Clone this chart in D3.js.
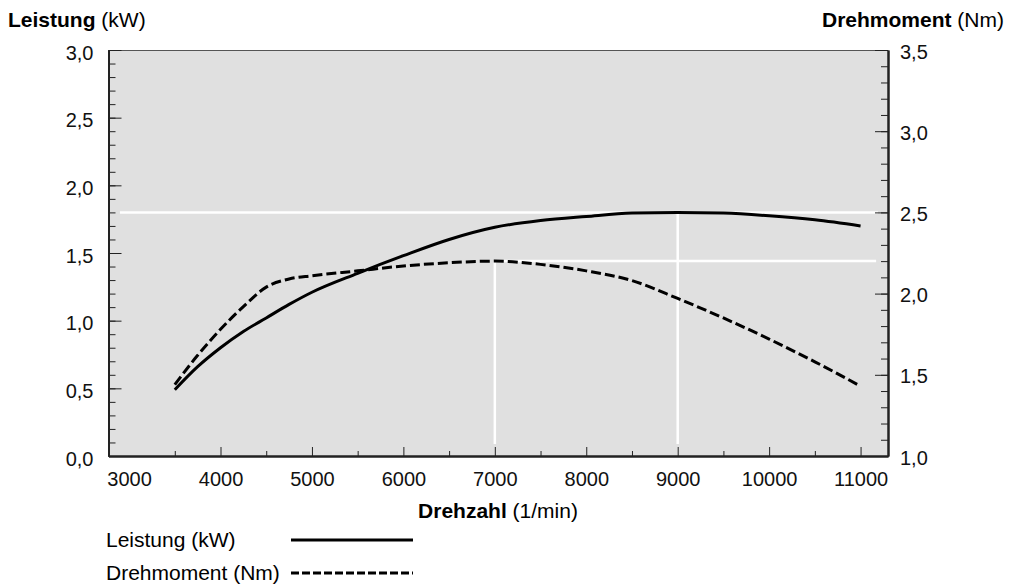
<!DOCTYPE html>
<html>
<head>
<meta charset="utf-8">
<script src="https://cdn.jsdelivr.net/npm/d3@7"></script>
<style>
  body { margin: 0; background: #fff; }
  svg { display: block; font-family: "Liberation Sans", Arial, Helvetica, sans-serif; }
  .axis path, .axis line { stroke: #222; }
  .axis text { font-size: 20px; fill: #111; }
</style>
</head>
<body>
<div id="chart"></div>
<script>
// Drehzahl (1/min)
var drehzahl = [3500, 3750, 4000, 4250, 4500, 4750, 5000, 5500, 6000, 6500, 7000, 7500, 8000, 8500, 9000, 9500, 10000, 10500, 11000];
// Leistung (kW)
var leistung = [0.49, 0.66, 0.80, 0.92, 1.02, 1.12, 1.21, 1.35, 1.48, 1.60, 1.69, 1.74, 1.77, 1.795, 1.80, 1.795, 1.775, 1.745, 1.70];
// Drehmoment (Nm)
var drehmoment = [1.44, 1.62, 1.78, 1.92, 2.04, 2.09, 2.11, 2.14, 2.17, 2.19, 2.20, 2.18, 2.14, 2.08, 1.97, 1.85, 1.72, 1.58, 1.43];

var xLabels = [3000, 4000, 5000, 6000, 7000, 8000, 9000, 10000, 11000];
var xMajor = [4000, 5000, 6000, 7000, 8000, 9000, 10000, 11000];
var xMinor = [3500, 4500, 5500, 6500, 7500, 8500, 9500, 10500];
var leistungTicks = [0, 0.5, 1.0, 1.5, 2.0, 2.5, 3.0];
var drehmomentTicks = [1.0, 1.5, 2.0, 2.5, 3.0, 3.5];

// Maximalwerte (weisse Hilfslinien)
var maxLeistung = { rpm: 9000, value: 1.8 };
var maxDrehmoment = { rpm: 7000, value: 2.2 };

var App = App || {};

(function() {
  var width = 1024, height = 584;
  var left = 108.5, right = 888, top = 50, bottom = 456;

  App.init = function() {
    var svg = d3.select("#chart").append("svg")
      .attr("width", width)
      .attr("height", height);

    var x = d3.scaleLinear().domain([2775, 11300]).range([left, right]);
    var yL = d3.scaleLinear().domain([0, 3]).range([bottom, top]);
    var yR = d3.scaleLinear().domain([1, 3.5]).range([bottom, top]);

    var komma = d3.formatLocale({ decimal: ",", thousands: ".", grouping: [3], currency: ["", "€"] }).format(".1f");

    // plot background
    svg.append("rect")
      .attr("x", left).attr("y", top)
      .attr("width", right - left).attr("height", bottom - top)
      .attr("fill", "#e0e0e0");

    svg.append("line")
      .attr("x1", left).attr("x2", right)
      .attr("y1", top + 0.5).attr("y2", top + 0.5)
      .attr("stroke", "#555").attr("stroke-width", 1);

    // white helper lines
    var g = svg.append("g").attr("stroke", "#fff").attr("stroke-width", 2.5);
    g.append("line")
      .attr("x1", x(2900)).attr("x2", x(11190))
      .attr("y1", yL(maxLeistung.value)).attr("y2", yL(maxLeistung.value));
    g.append("line")
      .attr("x1", x(maxLeistung.rpm)).attr("x2", x(maxLeistung.rpm))
      .attr("y1", yL(maxLeistung.value)).attr("y2", bottom - 12);
    g.append("line")
      .attr("x1", x(maxDrehmoment.rpm)).attr("x2", x(11170))
      .attr("y1", yR(maxDrehmoment.value)).attr("y2", yR(maxDrehmoment.value));
    g.append("line")
      .attr("x1", x(maxDrehmoment.rpm)).attr("x2", x(maxDrehmoment.rpm))
      .attr("y1", yR(maxDrehmoment.value)).attr("y2", bottom - 12);

    // minor ticks every 0.1
    var minorL = d3.range(0, 31).map(function(d) { return d / 10; });
    var minorR = d3.range(10, 36).map(function(d) { return d / 10; });

    svg.append("g").attr("class", "axis")
      .attr("transform", "translate(" + left + ",0)")
      .call(d3.axisLeft(yL).tickValues(minorL).tickSize(-7).tickSizeOuter(0).tickFormat(""));
    svg.append("g").attr("class", "axis")
      .attr("transform", "translate(" + left + ",0)")
      .call(d3.axisLeft(yL).tickValues(leistungTicks).tickSize(-13).tickSizeOuter(0).tickPadding(15).tickFormat(komma))
      .call(function(a) { a.selectAll("text").attr("dy", "0.45em"); });

    svg.append("g").attr("class", "axis")
      .attr("transform", "translate(" + right + ",0)")
      .call(d3.axisRight(yR).tickValues(minorR).tickSize(-7).tickSizeOuter(0).tickFormat(""));
    svg.append("g").attr("class", "axis")
      .attr("transform", "translate(" + right + ",0)")
      .call(d3.axisRight(yR).tickValues(drehmomentTicks).tickSize(-13).tickSizeOuter(0).tickPadding(12).tickFormat(komma))
      .call(function(a) { a.selectAll("text").attr("dy", "0.4em"); });

    svg.append("g").attr("class", "axis")
      .attr("transform", "translate(0," + bottom + ")")
      .call(d3.axisBottom(x).tickValues(xMinor).tickSize(-5).tickSizeOuter(0).tickFormat(""));
    svg.append("g").attr("class", "axis")
      .attr("transform", "translate(0," + bottom + ")")
      .call(d3.axisBottom(x).tickValues(xMajor).tickSize(-9).tickSizeOuter(0).tickFormat(""));
    svg.append("g").attr("class", "axis")
      .attr("transform", "translate(0," + bottom + ")")
      .call(d3.axisBottom(x).tickValues(xLabels).tickSize(0).tickSizeOuter(0).tickPadding(16).tickFormat(d3.format("d")))
      .call(function(a) { a.select(".domain").remove(); });

    // axis lines on top
    svg.selectAll(".axis .domain").attr("stroke-width", 2).attr("stroke", "#111");

    // curves
    var lineL = d3.line()
      .x(function(d, i) { return x(drehzahl[i]); })
      .y(function(d) { return yL(d); })
      .curve(d3.curveMonotoneX);
    var lineR = d3.line()
      .x(function(d, i) { return x(drehzahl[i]); })
      .y(function(d) { return yR(d); })
      .curve(d3.curveMonotoneX);

    svg.append("path")
      .datum(leistung)
      .attr("d", lineL)
      .attr("fill", "none").attr("stroke", "#000").attr("stroke-width", 3);
    svg.append("path")
      .datum(drehmoment)
      .attr("d", lineR)
      .attr("fill", "none").attr("stroke", "#000").attr("stroke-width", 3)
      .attr("stroke-dasharray", "10,4");

    // titles
    var t1 = svg.append("text").attr("x", 8).attr("y", 27).attr("font-size", 21);
    t1.append("tspan").attr("font-weight", "bold").text("Leistung");
    t1.append("tspan").text(" (kW)");

    var t2 = svg.append("text").attr("x", 1004).attr("y", 27).attr("font-size", 21).attr("text-anchor", "end");
    t2.append("tspan").attr("font-weight", "bold").text("Drehmoment");
    t2.append("tspan").text(" (Nm)");

    var t3 = svg.append("text").attr("x", 498).attr("y", 518).attr("font-size", 21).attr("text-anchor", "middle");
    t3.append("tspan").attr("font-weight", "bold").text("Drehzahl");
    t3.append("tspan").text(" (1/min)");

    // legend
    var legend = [
      { label: "Leistung (kW)", y: 540, dash: null },
      { label: "Drehmoment (Nm)", y: 573, dash: "8,3" }
    ];
    var lg = svg.selectAll(".legend").data(legend).enter().append("g").attr("class", "legend");
    lg.append("text")
      .attr("x", 106).attr("y", function(d) { return d.y + 7; })
      .attr("font-size", 21)
      .text(function(d) { return d.label; });
    lg.append("line")
      .attr("x1", 291).attr("x2", 413)
      .attr("y1", function(d) { return d.y; }).attr("y2", function(d) { return d.y; })
      .attr("stroke", "#000").attr("stroke-width", 3)
      .attr("stroke-dasharray", function(d) { return d.dash; });
  };
})();

App.init();
</script>
</body>
</html>
